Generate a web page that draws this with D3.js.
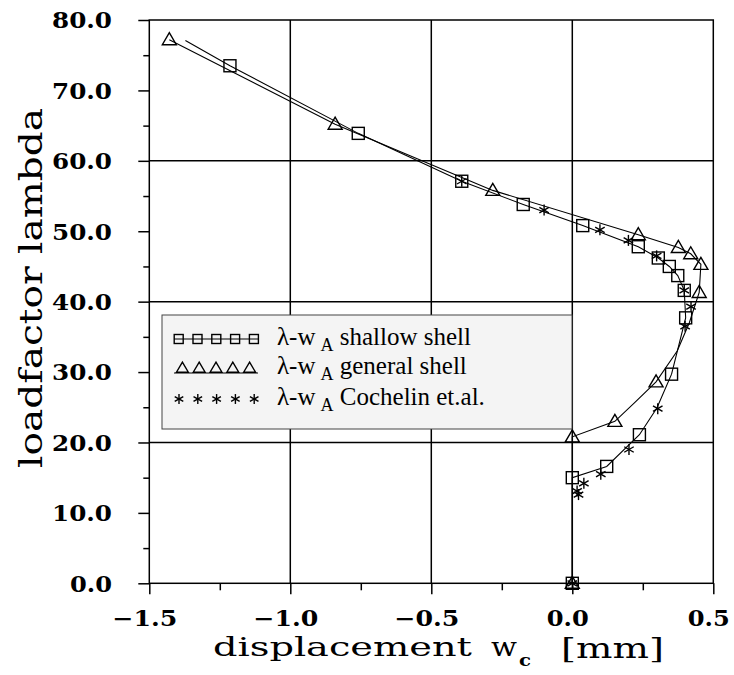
<!DOCTYPE html>
<html>
<head>
<meta charset="utf-8">
<script src="https://cdn.jsdelivr.net/npm/d3@7"></script>
<style>
  html, body { margin: 0; padding: 0; background: #fff; }
  svg { display: block; }
</style>
</head>
<body>
<svg id="chart" width="734" height="675"></svg>
<script>
// Load–displacement paths (w in mm, lambda = load factor)
// Shallow shell theory: last vertex carries no marker
const shallowW    = [0, 0, 0.122, 0.238, 0.300, 0.352, 0.402, 0.397, 0.374, 0.344, 0.305, 0.234, 0.037, -0.174, -0.392, -0.759, -1.214, -1.372];
const shallowLam  = [0, 15.0, 16.6, 21.1, 24.9, 29.7, 37.7, 41.6, 43.7, 45.0, 46.2, 47.8, 50.8, 53.8, 57.1, 63.9, 73.5, 77.1];
const shallowMark = [1, 1, 1, 1, 0, 1, 1, 1, 1, 1, 1, 1, 1, 1, 1, 1, 1, 0];

// General shell theory
const generalW    = [0, 0, 0.151, 0.222, 0.297, 0.372, 0.415, 0.450, 0.456, 0.420, 0.376, 0.234, -0.282, -0.841, -1.429];
const generalLam  = [0, 20.8, 23.0, 25.7, 28.6, 33.0, 37.0, 41.3, 45.3, 46.8, 47.7, 49.5, 55.8, 65.2, 77.2];
const generalMark = [1, 1, 1, 0, 1, 0, 0, 1, 1, 1, 1, 1, 1, 1, 1];

// Reference solution (Cochelin et al.), points only
const cochelinW   = [0, 0.017, 0.022, 0.041, 0.101, 0.201, 0.303, 0.400, 0.421, 0.397, 0.299, 0.199, 0.098, -0.100, -0.392];
const cochelinLam = [0, 13.1, 12.6, 14.2, 15.5, 19.0, 24.8, 36.5, 39.3, 41.6, 46.5, 48.7, 50.2, 53.0, 57.1];

// Axes
const xTicks  = [-1.5, -1.0, -0.5, 0.0, 0.5];
const xMinor  = [-1.25, -0.75, -0.25, 0.25];
const yTicks  = [0, 10, 20, 30, 40, 50, 60, 70, 80];
const yMinor  = [5, 15, 25, 35, 45, 55, 65, 75];
const xGrid   = [-1.0, -0.5, 0.0];
const yGrid   = [20, 40, 60];

const legendItems = [
  { sym: "square",   label: " shallow shell" },
  { sym: "triangle", label: " general shell" },
  { sym: "star",     label: " Cochelin et.al." }
];

const svg = d3.select("#chart");
const x = d3.scaleLinear().domain([-1.5, 0.5]).range([149.3, 713.3]);
const y = d3.scaleLinear().domain([0, 80]).range([583.3, 20]);

const serif = "'DejaVu Serif', serif";
const times = "'Liberation Serif', 'Times New Roman', serif";

// Width of a bold tick label, so every label keeps the same wide look
function labelLength(s) {
  let n = 0;
  for (const ch of s) {
    if (ch >= "0" && ch <= "9") n += 18;
    else if (ch === ".") n += 6;
    else n += 23;
  }
  return n;
}

// Grid
const grid = svg.append("g").attr("stroke", "#000").attr("stroke-width", 1.5);
grid.selectAll(".gx").data(xGrid).join("line")
  .attr("x1", d => x(d)).attr("x2", d => x(d))
  .attr("y1", y(80)).attr("y2", y(0));
grid.selectAll(".gy").data(yGrid).join("line")
  .attr("x1", x(-1.5)).attr("x2", x(0.5))
  .attr("y1", d => y(d)).attr("y2", d => y(d));

// Bottom axis
const xAxis = svg.append("g")
  .attr("transform", `translate(0,${y(0)})`)
  .call(d3.axisBottom(x).tickValues(xTicks).tickSize(11).tickFormat(d3.format(".1f")));
xAxis.select(".domain").remove();
xAxis.selectAll(".tick line").attr("stroke", "#000").attr("stroke-width", 1.5);
xAxis.selectAll(".tick text")
  .attr("y", 42.5).attr("dy", 0).attr("x", -5)
  .attr("fill", "#000")
  .style("font-family", serif).style("font-weight", "bold").style("font-size", "22px")
  .each(function () {
    const t = d3.select(this);
    t.attr("textLength", labelLength(t.text())).attr("lengthAdjust", "spacingAndGlyphs");
  });
const xMin = svg.append("g")
  .attr("transform", `translate(0,${y(0)})`)
  .call(d3.axisBottom(x).tickValues(xMinor).tickSize(7).tickFormat(""));
xMin.select(".domain").remove();
xMin.selectAll(".tick line").attr("stroke", "#000").attr("stroke-width", 1.5);

// Left axis
const yAxis = svg.append("g")
  .attr("transform", `translate(${x(-1.5)},0)`)
  .call(d3.axisLeft(y).tickValues(yTicks).tickSize(11).tickFormat(d3.format(".1f")));
yAxis.select(".domain").remove();
yAxis.selectAll(".tick line").attr("stroke", "#000").attr("stroke-width", 1.5);
yAxis.selectAll(".tick text")
  .attr("x", -37.3).attr("dy", "0.36em")
  .attr("fill", "#000")
  .style("font-family", serif).style("font-weight", "bold").style("font-size", "22px")
  .each(function () {
    const t = d3.select(this);
    t.attr("textLength", labelLength(t.text())).attr("lengthAdjust", "spacingAndGlyphs");
  });
const yMin = svg.append("g")
  .attr("transform", `translate(${x(-1.5)},0)`)
  .call(d3.axisLeft(y).tickValues(yMinor).tickSize(6).tickFormat(""));
yMin.select(".domain").remove();
yMin.selectAll(".tick line").attr("stroke", "#000").attr("stroke-width", 1.5);

// Frame
svg.append("rect")
  .attr("x", x(-1.5)).attr("y", y(80))
  .attr("width", x(0.5) - x(-1.5)).attr("height", y(0) - y(80))
  .attr("fill", "none").attr("stroke", "#000").attr("stroke-width", 1.5);

// Axis titles
svg.append("text")
  .attr("x", 213).attr("y", 656)
  .attr("textLength", 259).attr("lengthAdjust", "spacingAndGlyphs")
  .style("font-family", serif).style("font-size", "26px")
  .text("displacement");
svg.append("text")
  .attr("x", 491).attr("y", 656)
  .attr("textLength", 26).attr("lengthAdjust", "spacingAndGlyphs")
  .style("font-family", serif).style("font-size", "26px")
  .text("w");
svg.append("text")
  .attr("x", 519).attr("y", 666)
  .attr("textLength", 12).attr("lengthAdjust", "spacingAndGlyphs")
  .style("font-family", serif).style("font-weight", "bold").style("font-size", "17px")
  .text("c");
svg.append("text")
  .attr("x", 561).attr("y", 658)
  .attr("textLength", 103).attr("lengthAdjust", "spacingAndGlyphs")
  .style("font-family", serif).style("font-size", "28px")
  .text("[mm]");

svg.append("text")
  .attr("transform", "translate(42,288) rotate(-90)")
  .attr("text-anchor", "middle")
  .attr("textLength", 360).attr("lengthAdjust", "spacingAndGlyphs")
  .style("font-family", serif).style("font-size", "32px")
  .text("loadfactor lambda");

// Marker glyphs
function drawMarker(g, sym, cx, cy, s) {
  s = s || 1;
  if (sym === "square") {
    g.append("rect")
      .attr("x", cx - 6 * s).attr("y", cy - 6 * s)
      .attr("width", 12 * s).attr("height", 12 * s)
      .attr("fill", "none").attr("stroke", "#000").attr("stroke-width", 1.4);
  } else if (sym === "triangle") {
    g.append("path")
      .attr("d", `M${cx - 7 * s},${cy + 5 * s}L${cx + 7 * s},${cy + 5 * s}L${cx},${cy - 7 * s}Z`)
      .attr("fill", "none").attr("stroke", "#000").attr("stroke-width", 1.4);
  } else {
    const r = 5.5 * s;
    const arms = [90, 30, 150];
    arms.forEach(a => {
      const dx = r * Math.cos(a * Math.PI / 180), dy = r * Math.sin(a * Math.PI / 180);
      g.append("line")
        .attr("x1", cx - dx).attr("y1", cy - dy).attr("x2", cx + dx).attr("y2", cy + dy)
        .attr("stroke", "#000").attr("stroke-width", 1.4);
    });
  }
}

const line = d3.line().x(d => x(d[0])).y(d => y(d[1]));
const plot = svg.append("g");

function drawSeries(ws, ls, marks, sym, withLine) {
  const pts = ws.map((w, i) => [w, ls[i]]);
  if (withLine) {
    plot.append("path").datum(pts)
      .attr("d", line).attr("fill", "none")
      .attr("stroke", "#000").attr("stroke-width", 1.1);
  }
  pts.forEach((p, i) => {
    if (!marks || marks[i]) drawMarker(plot, sym, x(p[0]), y(p[1]));
  });
}

drawSeries(shallowW, shallowLam, shallowMark, "square", true);
drawSeries(generalW, generalLam, generalMark, "triangle", true);
drawSeries(cochelinW, cochelinLam, null, "star", false);

// Legend
const lg = svg.append("g");
lg.append("rect")
  .attr("x", 162).attr("y", 315).attr("width", 410).attr("height", 114)
  .attr("fill", "#f4f4f4").attr("stroke", "#444").attr("stroke-width", 1);

const rowY = [339, 368, 399];
legendItems.forEach((item, i) => {
  const cy = rowY[i];
  if (item.sym === "square") {
    lg.append("line").attr("x1", 174).attr("x2", 258).attr("y1", cy).attr("y2", cy)
      .attr("stroke", "#000").attr("stroke-width", 1.1);
    d3.range(5).forEach(k => drawMarker(lg, "square", 178.7 + k * 18.8, cy, 0.75));
  } else if (item.sym === "triangle") {
    lg.append("line").attr("x1", 174).attr("x2", 258).attr("y1", cy + 5).attr("y2", cy + 5)
      .attr("stroke", "#000").attr("stroke-width", 1.1);
    d3.range(5).forEach(k => drawMarker(lg, "triangle", 182.4 + k * 16.8, cy, 0.85));
  } else {
    d3.range(5).forEach(k => drawMarker(lg, "star", 179 + k * 18.8, cy, 0.9));
  }
  const t = lg.append("text")
    .attr("x", 277).attr("y", cy + 6)
    .style("font-family", times).style("font-size", "25px");
  t.append("tspan").text("λ-w");
  t.append("tspan").attr("dx", 5).attr("dy", 6).style("font-size", "18px").text("A");
  t.append("tspan").attr("dy", -6).text(item.label);
});
</script>
</body>
</html>
